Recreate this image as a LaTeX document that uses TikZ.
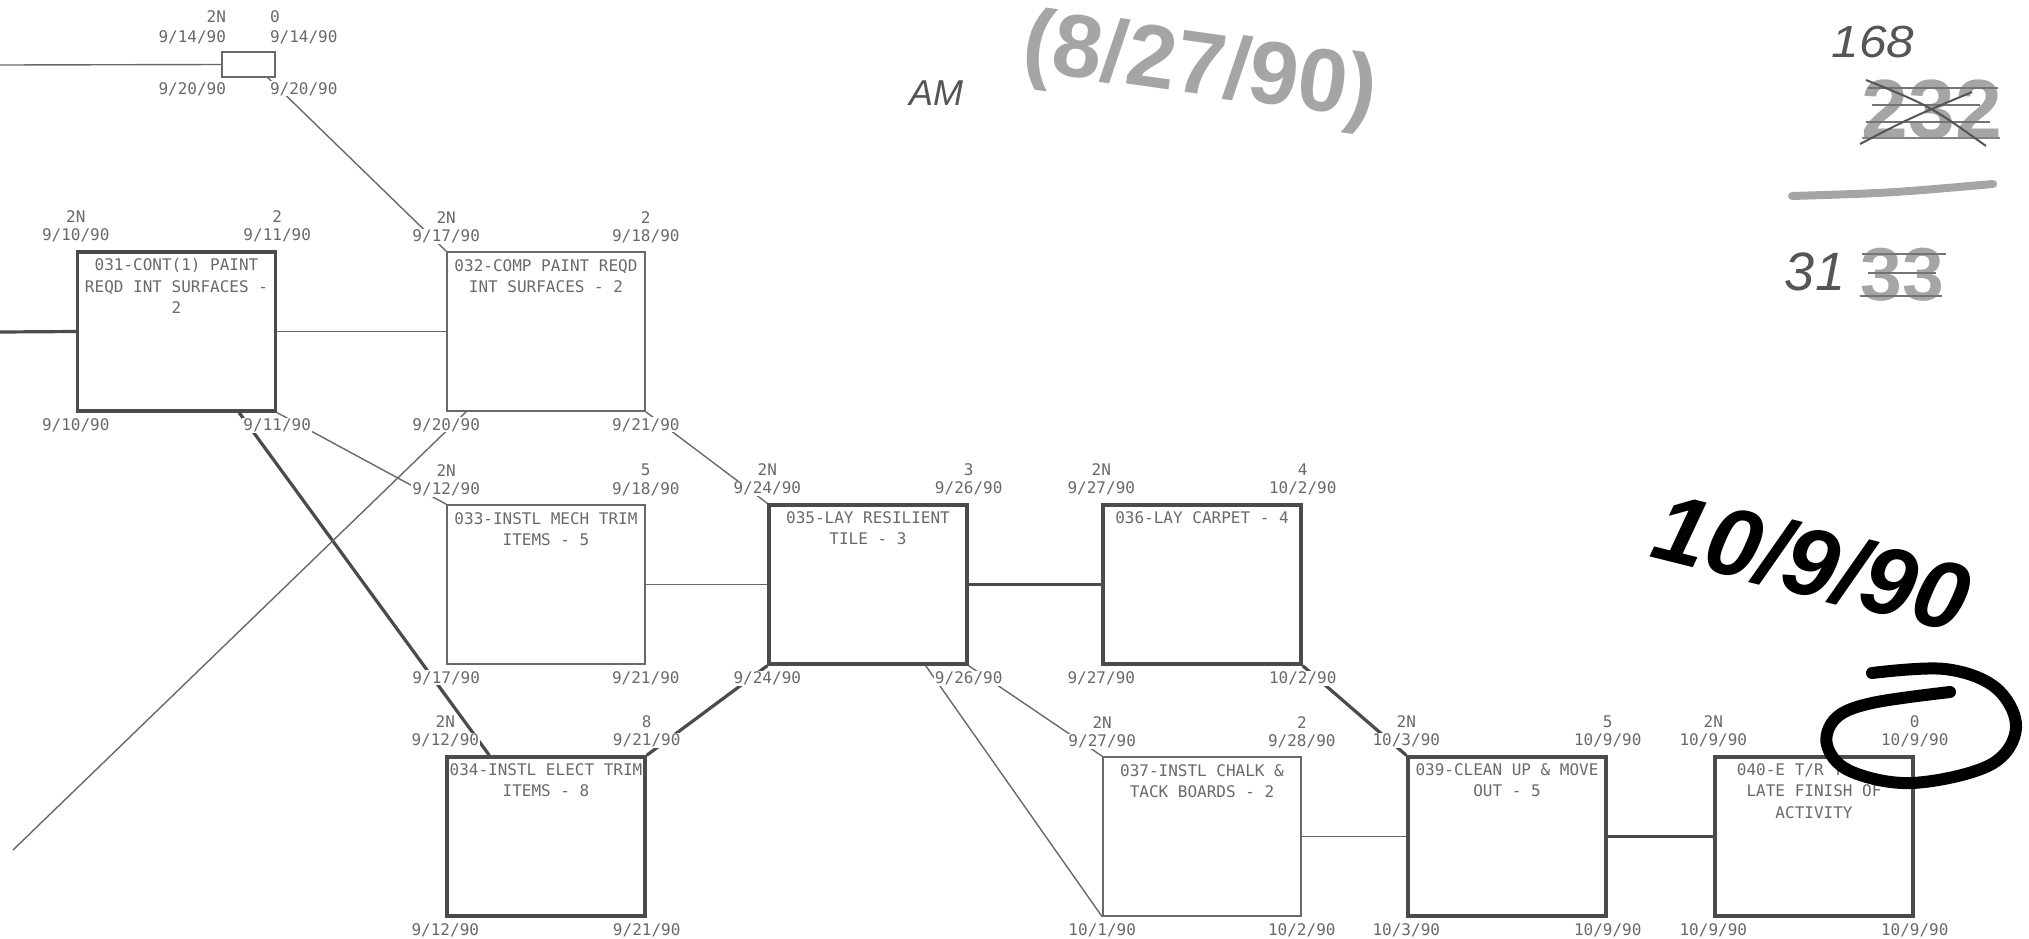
\documentclass[tikz,border=0pt]{standalone}
\usepackage{fontspec}
\setmainfont{Liberation Sans}
\newfontfamily\plotfont{DejaVu Sans Mono}
\newfontfamily\handfont{Liberation Sans}
\usetikzlibrary{positioning, backgrounds, calc}
\definecolor{plotgray}{RGB}{105, 105, 105}
\definecolor{critgray}{RGB}{75, 75, 75}
\definecolor{pencil}{RGB}{165, 165, 165}
\definecolor{inkgray}{RGB}{85, 85, 85}

% six dates round one activity box
\newcommand{\actdates}[7]{%
  \node[datelbl] (#1-tf) at ([yshift=34pt]#1.north west) {#2};
  \node[datelbl] (#1-es) at ([yshift=15pt]#1.north west) {#3};
  \node[datelbl] (#1-du) at ([yshift=34pt]#1.north east) {#4};
  \node[datelbl] (#1-ef) at ([yshift=15pt]#1.north east) {#5};
  \node[datelbl] (#1-ls) at ([yshift=-13pt]#1.south west) {#6};
  \node[datelbl] (#1-lf) at ([yshift=-13pt]#1.south east) {#7};
}

\begin{document}
\begin{tikzpicture}[x=1pt, y=-1pt,
    act/.style={draw=plotgray, line width=1.6pt, minimum width=198pt, minimum height=159pt, inner sep=0pt},
    crit/.style={act, draw=critgray, line width=3.4pt},
    acttitle/.style={font=\plotfont\fontsize{16}{21.5}\selectfont, text=plotgray, align=center, inner sep=0pt},
    datelbl/.style={font=\plotfont\fontsize{16}{18}\selectfont, text=plotgray, fill=white, inner sep=1pt},
    netline/.style={draw=plotgray, line width=1.4pt},
    critline/.style={draw=critgray, line width=3.2pt},
    pencilhand/.style={text=pencil, font=\handfont\bfseries\fontsize{#1}{#1}\selectfont},
    inkhand/.style={text=inkgray, font=\handfont\itshape\fontsize{#1}{#1}\selectfont}]
  \useasboundingbox (0,0) rectangle (2029,938);

  % activity boxes
  \node[act, minimum width=53pt, minimum height=25pt] (ms) at (248.5,64.5) {};
  \node[crit] (b031) at (176.5,331.5) {};
  \node[act]  (b032) at (546,331.5) {};
  \node[act]  (b033) at (546,584.5) {};
  \node[crit] (b034) at (546,836.5) {};
  \node[crit] (b035) at (868,584.5) {};
  \node[crit] (b036) at (1202,584.5) {};
  \node[act]  (b037) at (1202,836.5) {};
  \node[crit] (b039) at (1507,836.5) {};
  \node[crit] (b040) at (1814,836.5) {};

  \node[acttitle, below=8pt of b031.north] (t031) {031-CONT(1) PAINT\\REQD INT SURFACES -\\2};
  \node[acttitle, below=8pt of b032.north] (t032) {032-COMP PAINT REQD\\INT SURFACES - 2};
  \node[acttitle, below=8pt of b033.north] (t033) {033-INSTL MECH TRIM\\ITEMS - 5};
  \node[acttitle, below=8pt of b034.north] (t034) {034-INSTL ELECT TRIM\\ITEMS - 8};
  \node[acttitle, below=8pt of b035.north] (t035) {035-LAY RESILIENT\\TILE - 3};
  \node[acttitle, below=8pt of b036.north] (t036) {036-LAY CARPET - 4};
  \node[acttitle, below=8pt of b037.north] (t037) {037-INSTL CHALK \&\\TACK BOARDS - 2};
  \node[acttitle, below=8pt of b039.north] (t039) {039-CLEAN UP \& MOVE\\OUT - 5};
  \node[acttitle, below=8pt of b040.north] (t040) {040-E T/R TO\hphantom{0000}\\LATE FINISH OF\\ACTIVITY};

  % dates
  \node[datelbl, anchor=east] (ms-tf) at ([xshift=6pt, yshift=35pt]ms.north west) {2N};
  \node[datelbl, anchor=east] (ms-es) at ([xshift=6pt, yshift=14pt]ms.north west) {9/14/90};
  \node[datelbl, anchor=west] (ms-du) at ([xshift=-7pt, yshift=35pt]ms.north east) {0};
  \node[datelbl, anchor=west] (ms-ef) at ([xshift=-7pt, yshift=14pt]ms.north east) {9/14/90};
  \node[datelbl, anchor=east] (ms-ls) at ([xshift=6pt, yshift=-11pt]ms.south west) {9/20/90};
  \node[datelbl, anchor=west] (ms-lf) at ([xshift=-7pt, yshift=-11pt]ms.south east) {9/20/90};
  \actdates{b031}{2N}{9/10/90}{2}{9/11/90}{9/10/90}{9/11/90}
  \actdates{b032}{2N}{9/17/90}{2}{9/18/90}{9/20/90}{9/21/90}
  \actdates{b033}{2N}{9/12/90}{5}{9/18/90}{9/17/90}{9/21/90}
  \actdates{b034}{2N}{9/12/90}{8}{9/21/90}{9/12/90}{9/21/90}
  \actdates{b035}{2N}{9/24/90}{3}{9/26/90}{9/24/90}{9/26/90}
  \actdates{b036}{2N}{9/27/90}{4}{10/2/90}{9/27/90}{10/2/90}
  \actdates{b037}{2N}{9/27/90}{2}{9/28/90}{10/1/90}{10/2/90}
  \actdates{b039}{2N}{10/3/90}{5}{10/9/90}{10/3/90}{10/9/90}
  \actdates{b040}{2N}{10/9/90}{0}{10/9/90}{10/9/90}{10/9/90}

  % links
  \coordinate (offa) at (0,65);
  \coordinate (offb) at (0,332);
  \coordinate (offc) at (13,850);
  \begin{scope}[on background layer]
    \draw[netline] (offa) -- (ms.west);
    \draw[critline] (offb) -- (b031.west);
    \draw[netline] (b031.east) -- (b032.west);
    \draw[netline] ([xshift=-8pt]ms.south east) -- (b032.north west);
    \draw[netline] (b031.south east) -- (b033.north west);
    \draw[critline] ([xshift=-38pt]b031.south east) -- ([xshift=44pt]b034.north west);
    \draw[netline] (offc) -- ([xshift=20pt]b032.south west);
    \draw[netline] (b032.south east) -- (b035.north west);
    \draw[netline] (b033.east) -- (b035.west);
    \draw[critline] (b034.north east) -- (b035.south west);
    \draw[critline] (b035.east) -- (b036.west);
    \draw[netline] ([xshift=-43pt]b035.south east) -- (b037.south west);
    \draw[netline] (b035.south east) -- (b037.north west);
    \draw[critline] (b036.south east) -- (b039.north west);
    \draw[netline] (b037.east) -- (b039.west);
    \draw[critline] (b039.east) -- (b040.west);
  \end{scope}

  % pen notes
  \node[inkhand=36] (hw-am) at (936,93) {AM};
  \node[pencilhand=89, rotate=-8] (hw-date) at (1200,71) {(8/27/90)};
  \node[inkhand=45, xscale=1.1] (hw-new) at (1873,42) {168};
  \node[pencilhand=84] (hw-old) at (1932,110) {232};
  \draw[pencil!70!black, line width=2.2pt] (1868,88) -- (1998,88);
  \draw[pencil!70!black, line width=2.2pt] (1872,105) -- (1980,105);
  \draw[pencil!70!black, line width=2.2pt] (1866,122) -- (1990,122);
  \draw[pencil!80!black, line width=2.2pt] (1862,138) -- (2000,138);
  \draw[inkgray, line width=2pt] (1866,80) .. controls (1930,106) .. (1986,146);
  \draw[inkgray, line width=2pt] (1860,144) .. controls (1910,118) .. (1972,92);
  \draw[pencil, line width=8pt, line cap=round] (1792,196) .. controls (1890,193) .. (1993,184);
  \node[inkhand=54] (hw-31) at (1815,272) {31};
  \node[pencilhand=75] (hw-33) at (1902,275) {33};
  \draw[pencil!70!black, line width=2.2pt] (1862,254) -- (1946,254);
  \draw[pencil!70!black, line width=2.2pt] (1868,273) -- (1936,273);
  \draw[pencil!70!black, line width=2.2pt] (1860,296) -- (1942,296);
  \node[text=black, font=\handfont\bfseries\itshape\fontsize{96}{96}\selectfont, rotate=-14] (hw-final) at (1812,562) {10/9/90};
  \draw[black, line width=12pt, line cap=round] plot[smooth, tension=0.6] coordinates {(1872,673) (1945,669) (1996,688) (2016,728) (1990,765) (1912,783) (1850,771) (1827,745) (1836,718) (1872,703) (1950,692)};
\end{tikzpicture}
\end{document}
